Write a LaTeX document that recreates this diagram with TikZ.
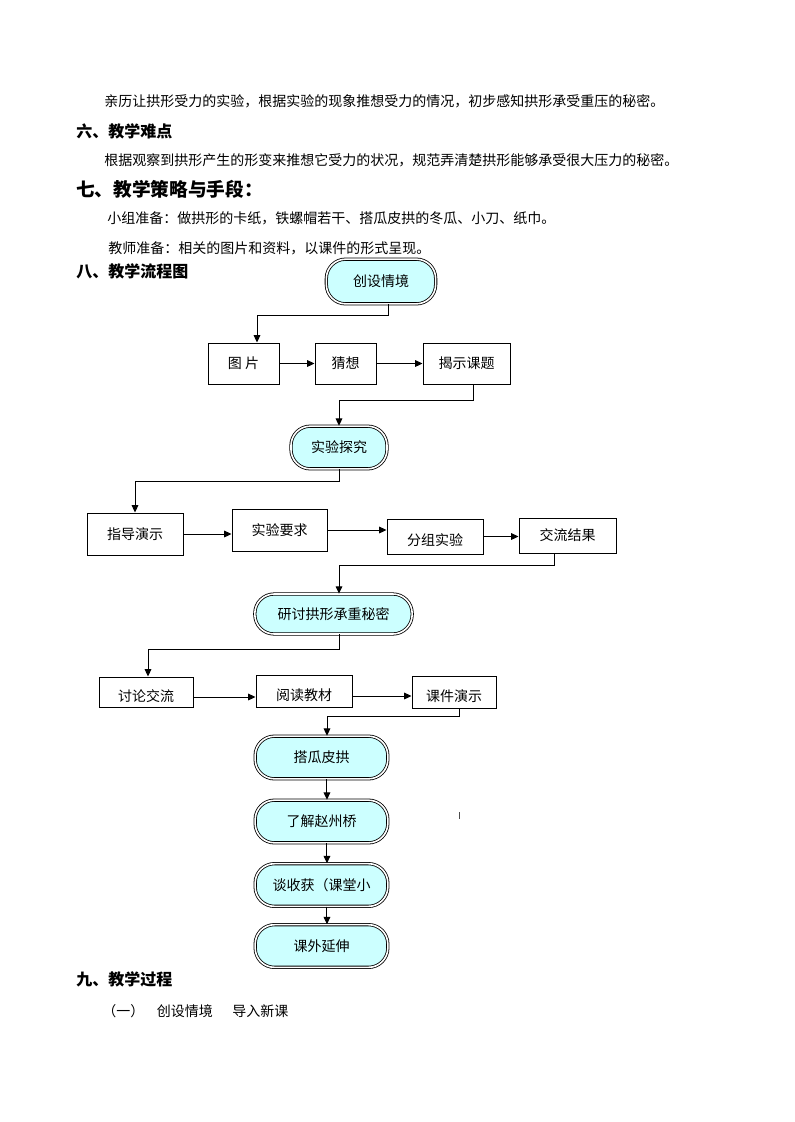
\documentclass[tikz,border=0pt]{standalone}
\usepackage{fontspec}
\setmainfont{Noto Sans CJK SC}
\usetikzlibrary{arrows.meta}
\definecolor{qianqing}{HTML}{CCFFFF}
% 文字下移（框内文字偏下）
\newcommand{\xiayi}[1]{\raisebox{-3pt}[\height][\depth]{#1}}

\begin{document}
\begin{tikzpicture}[x=0.75pt, y=-0.75pt,
	every node/.style={font=\fontsize{10.5pt}{12pt}\selectfont, inner sep=0pt},
	zhengwen/.style={anchor=west},
	biaoti/.style={anchor=west, font=\fontsize{12pt}{14pt}\selectfont\bfseries},
	kuang/.style={draw, line width=0.75pt},
	yuanjiao/.style={draw, line width=0.6pt, double=white, double distance=1.2pt, fill=qianqing, rounded corners=14.5pt},
	jiantou/.style={-{Triangle[length=5.5pt,width=5pt]}, line width=0.75pt}]
	% --- 页面 ---
	\fill[white] (0,0) rectangle (794,1122);
	\useasboundingbox (0,0) rectangle (794,1122);
	
	% --- 正文 ---
	\node[zhengwen] (l1) at (104,101) {亲历让拱形受力的实验，根据实验的现象推想受力的情况，初步感知拱形承受重压的秘密。};
	\node[biaoti] (t6) at (76,131) {六、教学难点};
	\node[zhengwen] (l2) at (104,160) {根据观察到拱形产生的形变来推想它受力的状况，规范弄清楚拱形能够承受很大压力的秘密。};
	\node[biaoti, font=\fontsize{14pt}{16pt}\selectfont\bfseries] (t7) at (76,189) {七、教学策略与手段：};
	\node[zhengwen] (l3) at (107,218) {小组准备：做拱形的卡纸，铁螺帽若干、搭瓜皮拱的冬瓜、小刀、纸巾。};
	\node[zhengwen] (l4) at (108,248) {教师准备：相关的图片和资料，以课件的形式呈现。};
	\node[biaoti] (t8) at (76,271) {八、教学流程图};
	
	% --- 流程图 ---
	\node[yuanjiao, minimum width=82pt, minimum height=33.5pt] (cssj) at (381,281.5) {创设情境};
	\node[kuang, minimum width=53.25pt, minimum height=30.75pt] (tp) at (243.5,363.5) {图 片};
	\node[kuang, minimum width=45.75pt, minimum height=30.75pt] (cx) at (345.5,363.5) {猜想};
	\node[kuang, minimum width=65.25pt, minimum height=30.75pt] (jskt) at (466.5,363.5) {揭示课题};
	\node[yuanjiao, minimum width=72pt, minimum height=32pt] (sytj) at (339,447.5) {实验探究};
	\node[kuang, minimum width=72pt, minimum height=31.5pt] (zdys) at (135,534) {指导演示};
	\node[kuang, minimum width=71.25pt, minimum height=31.5pt] (syyq) at (279.5,530) {实验要求};
	\node[kuang, minimum width=72pt, minimum height=26.25pt] (fzsy) at (435,536.5) {\xiayi{分组实验}};
	\node[kuang, minimum width=72.75pt, minimum height=26.25pt] (jljg) at (567.5,535.5) {交流结果};
	\node[yuanjiao, minimum width=118pt, minimum height=30pt] (ytgx) at (333.5,614) {研讨拱形承重秘密};
	\node[kuang, minimum width=70.5pt, minimum height=22.5pt] (tljl) at (146,692) {\xiayi{讨论交流}};
	\node[kuang, minimum width=72pt, minimum height=24pt] (ydjc) at (304,691) {\xiayi{阅读教材}};
	\node[kuang, minimum width=63pt, minimum height=24pt] (kjys) at (454,692) {\xiayi{课件演示}};
	\node[yuanjiao, minimum width=99.5pt, minimum height=32pt] (dgpg) at (321.5,757.5) {搭瓜皮拱};
	\node[yuanjiao, minimum width=99.5pt, minimum height=32pt] (ljzz) at (321.5,821.5) {了解赵州桥};
	\node[yuanjiao, minimum width=99.5pt, minimum height=32pt] (tsh) at (321.5,885) {谈收获（课堂小};
	\node[yuanjiao, minimum width=99.5pt, minimum height=32pt] (kwys) at (321.5,946) {课外延伸};
	
	% 折线的拐点
	\coordinate (k1) at (257,315);
	\coordinate (k2) at (339,400);
	\coordinate (k3) at (135,481);
	\coordinate (k4) at (339,565);
	\coordinate (k5) at (148,649);
	\coordinate (k6) at (327,716);
	
	% --- 连线 ---
	\draw[jiantou] ([xshift=5.25pt]cssj.south) |- (k1) -- (k1 |- tp.north);
	\draw[jiantou] (tp.east) -- (cx.west);
	\draw[jiantou] (cx.east) -- (jskt.west);
	\draw[jiantou] ([xshift=4.9pt]jskt.south) |- (k2) -- (sytj.north);
	\draw[jiantou] (sytj.south) |- (k3) -- (zdys.north);
	\draw[jiantou] (zdys.east) -- (zdys.east -| syyq.west);
	\draw[jiantou] (syyq.east) -- (syyq.east -| fzsy.west);
	\draw[jiantou] (fzsy.east) -- (fzsy.east -| jljg.west);
	\draw[jiantou] ([xshift=-9.4pt]jljg.south) |- (k4) -- (k4 |- ytgx.north);
	\draw[jiantou] (ytgx.south -| k4) |- (k5) -- (k5 |- tljl.north);
	\draw[jiantou] ([yshift=-3.75pt]tljl.east) -- ([yshift=-3.75pt]tljl.east -| ydjc.west);
	\draw[jiantou] ([yshift=-3.75pt]ydjc.east) -- ([yshift=-3.75pt]ydjc.east -| kjys.west);
	\draw[jiantou] ([xshift=3.75pt]kjys.south) |- (k6) -- (k6 |- dgpg.north);
	\draw[jiantou] ([xshift=4.1pt]dgpg.south) -- ([xshift=4.1pt]ljzz.north);
	\draw[jiantou] ([xshift=4.1pt]ljzz.south) -- ([xshift=4.1pt]tsh.north);
	\draw[jiantou] ([xshift=4.1pt]tsh.south) -- ([xshift=4.1pt]kwys.north);
	\draw[line width=0.75pt, black!70] (459,812) -- (459,819);
	
	% --- 正文 ---
	\node[biaoti] (t9) at (76,979) {九、教学过程};
	\node[zhengwen] (l5) at (102,1011) {（一）\hspace{0.9em}创设情境\hspace{1.4em}导入新课};
\end{tikzpicture}
\end{document}
